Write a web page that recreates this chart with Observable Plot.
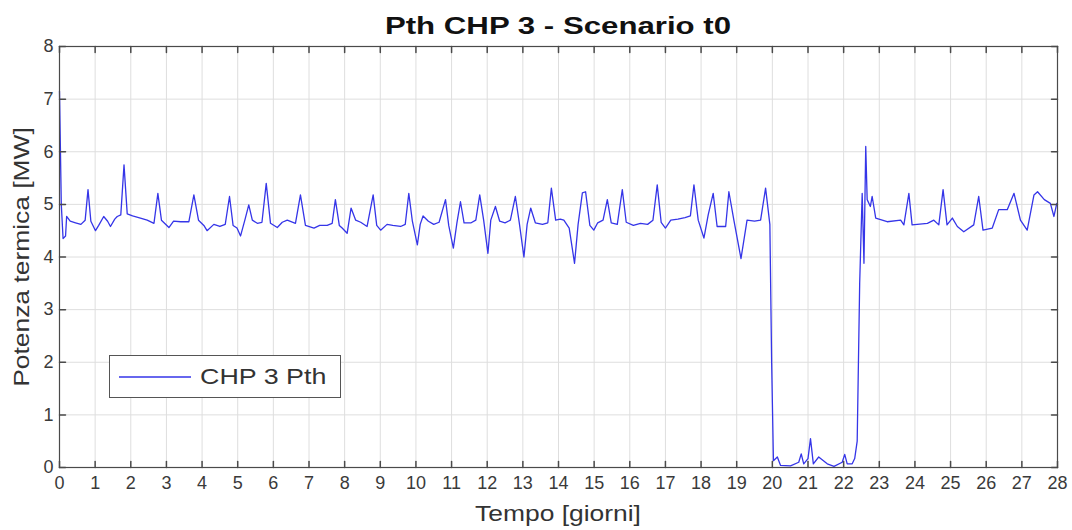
<!DOCTYPE html>
<html><head><meta charset="utf-8">
<script src="https://cdn.jsdelivr.net/npm/d3@7"></script>
<script src="https://cdn.jsdelivr.net/npm/@observablehq/plot@0.6"></script>
<style>
body{margin:0;background:#fff;}
#wrap{position:relative;width:1072px;height:530px;font-family:"Liberation Sans",Arial,Helvetica,sans-serif;}
.lbl{position:absolute;white-space:nowrap;line-height:1;color:#333;}
#title{left:558px;top:26px;font-size:24px;font-weight:bold;color:#111;transform:translate(-50%,-50%) scaleX(1.3);}
#xlab{left:558px;top:514px;font-size:22px;transform:translate(-50%,-50%) scaleX(1.2);}
#ylab{left:22px;top:257px;font-size:22px;transform:translate(-50%,-50%) rotate(-90deg) scaleX(1.2);}
#legend{position:absolute;left:109px;top:355px;width:232px;height:43px;border:1px solid #555;background:#fff;box-sizing:border-box;font-size:22px;color:#333;display:flex;align-items:center;}
#legend svg{margin-left:9px;margin-right:9px;}
#legend span{display:inline-block;transform:scaleX(1.22);transform-origin:left center;white-space:nowrap;}
</style></head>
<body><div id="wrap">
<div id="title" class="lbl"></div>
<div id="xlab" class="lbl"></div>
<div id="ylab" class="lbl"></div>
<div id="legend"><svg width="72" height="4"><line x1="0" y1="2" x2="72" y2="2" stroke="#3535e8" stroke-width="1.3"/></svg><span id="legtext"></span></div>
</div>
<script>
const days = [0,0.05,0.1,0.17,0.2,0.3,0.45,0.6,0.72,0.8,0.88,1.01,1.1,1.24,1.35,1.43,1.55,1.62,1.72,1.81,1.9,2.05,2.27,2.46,2.65,2.76,2.86,3.07,3.2,3.4,3.63,3.77,3.9,4.05,4.14,4.33,4.5,4.65,4.77,4.87,4.98,5.08,5.2,5.31,5.41,5.55,5.68,5.8,5.92,6.11,6.25,6.39,6.62,6.76,6.9,7.14,7.3,7.51,7.65,7.74,7.85,7.93,8.07,8.18,8.31,8.45,8.63,8.8,8.9,9.01,9.19,9.35,9.57,9.7,9.8,9.9,10.04,10.12,10.2,10.35,10.5,10.65,10.83,10.92,11.05,11.15,11.25,11.35,11.55,11.68,11.79,11.9,12.02,12.1,12.23,12.35,12.5,12.65,12.79,12.9,13.03,13.12,13.22,13.35,13.55,13.7,13.8,13.92,14.05,14.15,14.3,14.45,14.55,14.67,14.76,14.88,14.99,15.1,15.25,15.37,15.48,15.65,15.79,15.9,16.1,16.3,16.5,16.65,16.77,16.88,17.0,17.15,17.35,17.55,17.7,17.8,17.92,18.08,18.2,18.34,18.45,18.69,18.78,18.92,19.12,19.29,19.5,19.67,19.81,19.93,19.98,20.03,20.14,20.23,20.51,20.74,20.81,20.88,21.0,21.07,21.15,21.3,21.54,21.73,21.96,22.03,22.1,22.24,22.31,22.38,22.45,22.52,22.57,22.62,22.66,22.75,22.8,22.9,23.22,23.6,23.69,23.83,23.92,24.35,24.53,24.67,24.79,24.9,25.05,25.19,25.37,25.65,25.79,25.91,26.17,26.35,26.59,26.78,26.96,27.15,27.34,27.44,27.63,27.8,27.9,27.98];
const pth = [7.15,5.0,4.35,4.4,4.77,4.68,4.65,4.62,4.7,5.28,4.68,4.5,4.6,4.77,4.68,4.58,4.72,4.77,4.8,5.75,4.82,4.78,4.74,4.7,4.64,5.21,4.7,4.56,4.68,4.67,4.67,5.18,4.7,4.6,4.5,4.62,4.58,4.62,5.15,4.6,4.55,4.4,4.7,4.99,4.7,4.64,4.66,5.4,4.64,4.56,4.66,4.7,4.64,5.18,4.6,4.55,4.6,4.6,4.64,5.09,4.6,4.55,4.45,4.93,4.7,4.66,4.58,5.18,4.6,4.51,4.62,4.6,4.58,4.62,5.21,4.68,4.23,4.62,4.78,4.68,4.62,4.66,5.09,4.6,4.17,4.65,5.05,4.65,4.65,4.7,5.18,4.7,4.07,4.7,4.96,4.68,4.65,4.7,5.15,4.65,4.0,4.62,4.93,4.65,4.62,4.65,5.31,4.7,4.72,4.7,4.55,3.88,4.62,5.22,5.24,4.6,4.51,4.65,4.7,5.09,4.65,4.62,5.28,4.66,4.6,4.64,4.62,4.7,5.37,4.66,4.55,4.7,4.72,4.75,4.78,5.37,4.7,4.36,4.8,5.21,4.58,4.58,5.24,4.7,3.97,4.7,4.68,4.7,5.31,4.62,2.0,0.13,0.2,0.04,0.03,0.1,0.26,0.07,0.17,0.55,0.07,0.2,0.07,0.02,0.1,0.25,0.07,0.07,0.17,0.5,3.5,5.21,3.88,6.1,5.09,4.96,5.15,4.74,4.67,4.7,4.61,5.21,4.61,4.64,4.7,4.61,5.28,4.61,4.74,4.58,4.48,4.61,5.15,4.51,4.55,4.9,4.9,5.21,4.7,4.51,5.18,5.24,5.09,5.02,4.77,5.02];
const xTicks = [0,1,2,3,4,5,6,7,8,9,10,11,12,13,14,15,16,17,18,19,20,21,22,23,24,25,26,27,28];
const yTicks = [0,1,2,3,4,5,6,7,8];
const titleText = "Pth CHP 3 - Scenario t0";
const xLabel = "Tempo [giorni]";
const yLabel = "Potenza termica [MW]";
const seriesName = "CHP 3 Pth";

const data = days.map((d, i) => ({day: d, p: pth[i]}));
const font = '"Liberation Sans", Arial, Helvetica, sans-serif';
const axisCol = "#4a4a4a";
const textCol = "#3a3a3a";
const tickShape = {draw(context, l) { context.moveTo(0, 0); context.lineTo(0, -l); }};
const tickLen = 6;

document.getElementById("title").textContent = titleText;
document.getElementById("xlab").textContent = xLabel;
document.getElementById("ylab").textContent = yLabel;
document.getElementById("legtext").textContent = seriesName;

const chart = Plot.plot({
  width: 1072, height: 530,
  marginLeft: 59, marginRight: 15, marginTop: 46, marginBottom: 63,
  style: {fontFamily: font, fontSize: "18px", background: "#fff", color: textCol},
  x: {domain: [0, 28]},
  y: {domain: [0, 8]},
  marks: [
    Plot.gridX(xTicks, {stroke: "#dedede", strokeOpacity: 1}),
    Plot.gridY(yTicks, {stroke: "#dedede", strokeOpacity: 1}),
    Plot.line(data, {x: "day", y: "p", stroke: "#3535e8", strokeWidth: 1.3}),
    Plot.frame({stroke: axisCol, strokeWidth: 1.2}),
    Plot.vector(xTicks, {x: d => d, frameAnchor: "bottom", length: tickLen, rotate: 0, anchor: "start", shape: tickShape, stroke: axisCol}),
    Plot.vector(xTicks, {x: d => d, frameAnchor: "top", length: tickLen, rotate: 180, anchor: "start", shape: tickShape, stroke: axisCol}),
    Plot.vector(yTicks, {y: d => d, frameAnchor: "left", length: tickLen, rotate: 90, anchor: "start", shape: tickShape, stroke: axisCol}),
    Plot.vector(yTicks, {y: d => d, frameAnchor: "right", length: tickLen, rotate: -90, anchor: "start", shape: tickShape, stroke: axisCol}),
    Plot.axisX(xTicks, {anchor: "bottom", tickSize: 0, tickPadding: 9, fill: textCol, label: null, fontSize: 18, tickFormat: d => String(d)}),
    Plot.axisY(yTicks, {anchor: "left", tickSize: 0, tickPadding: 6, fill: textCol, label: null, fontSize: 18, tickFormat: d => String(d)})
  ]
});
document.getElementById("wrap").prepend(chart);
</script>
</body></html>
